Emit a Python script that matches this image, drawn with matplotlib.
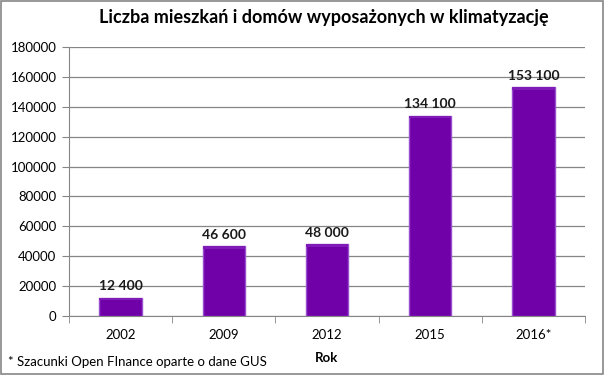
import numpy as np
import matplotlib.pyplot as plt
from matplotlib.patches import Rectangle

years = ['2002', '2009', '2012', '2015', '2016*']
values = [12400, 46600, 48000, 134100, 153100]
value_labels = ['12 400', '46 600', '48 000', '134 100', '153 100']
y_ticks = list(range(0, 180001, 20000))

plt.rcParams['font.family'] = ['Lato', 'DejaVu Sans']

fig = plt.figure(figsize=(6.05, 3.75), dpi=100)
ax = fig.add_axes([0.114, 0.157, 0.853, 0.718])

x = np.arange(len(years))
bars = ax.bar(x, values, width=0.41, color='#7000a8', edgecolor='#9a4fd0',
              linewidth=1.0, zorder=3)
# lekko jasniejsza gorna krawedz (efekt fazowania)
for b in bars:
    ax.add_patch(Rectangle((b.get_x(), b.get_height() - 1800), b.get_width(), 1800,
                           facecolor='#7f1cb8', edgecolor='none', zorder=4))

for xi, v, lab in zip(x, values, value_labels):
    ax.text(xi, v + 3500, lab, ha='center', va='bottom', fontsize=10,
            fontweight='bold', color='#1a1a1a')

ax.set_xlim(-0.5, len(years) - 0.5)
ax.set_ylim(0, 180000)
ax.set_yticks(y_ticks)
ax.set_yticklabels([str(t) for t in y_ticks], fontsize=9.5)
ax.set_xticks(x)
ax.set_xticklabels(years, fontsize=9.5)
ax.set_xticks(np.arange(-0.5, len(years)), minor=True)
ax.tick_params(axis='x', which='major', length=0, pad=9)
ax.tick_params(axis='x', which='minor', length=5, color='#868686')
ax.tick_params(axis='y', length=5, color='#868686', pad=4)
ax.grid(axis='y', color='#868686', linewidth=0.9, zorder=0)

for s in ['top', 'right']:
    ax.spines[s].set_visible(False)
ax.spines['left'].set_color('#868686')
ax.spines['bottom'].set_color('#868686')

ax.set_xlabel('Rok', fontsize=9.5, fontweight='bold', labelpad=8)

fig.text(0.536, 0.952, 'Liczba mieszkań i domów wyposażonych w klimatyzację',
         ha='center', va='center', fontsize=13, fontweight='bold')
fig.text(0.013, 0.035, '* Szacunki Open FInance oparte o dane GUS',
         ha='left', va='center', fontsize=9.5)

fig.patches.append(Rectangle((0.002, 0.003), 0.995, 0.994, transform=fig.transFigure,
                             fill=False, edgecolor='#868686', linewidth=1.2))

fig.savefig('out.png', dpi=100)
